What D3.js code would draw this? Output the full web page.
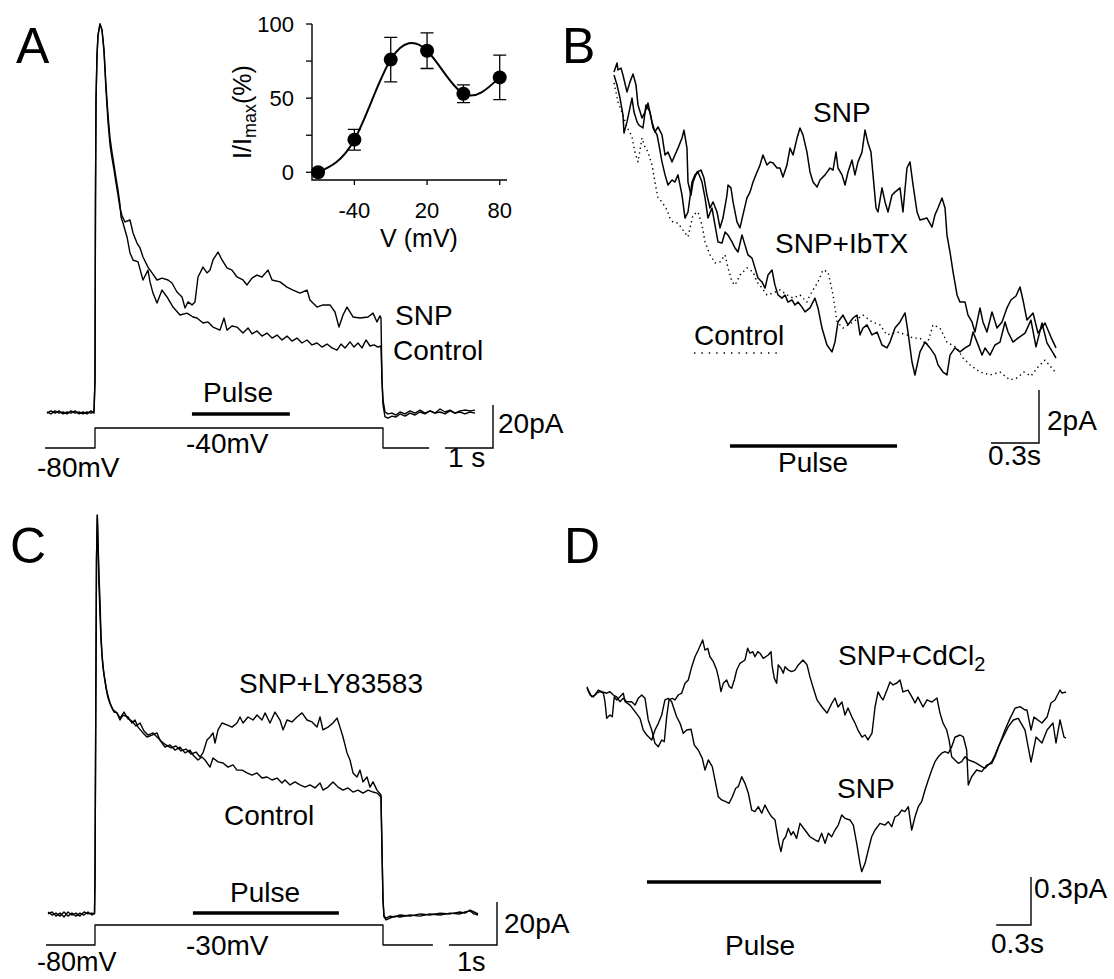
<!DOCTYPE html>
<html>
<head>
<meta charset="utf-8">
<script src="https://cdn.jsdelivr.net/npm/d3@7"></script>
<style>
  body { margin: 0; background: #fff; }
  text { font-family: "Liberation Sans", Arial, sans-serif; fill: #000; }
</style>
</head>
<body>
<svg width="1114" height="979"></svg>
<script>
// ---- Panel A : current (pA) vs time (s), step -80 -> -40 mV ----
const aCtl = [[-1.0,0],[-0.917,-0.9],[-0.833,0.5],[-0.75,-0.5],[-0.667,0],[-0.583,-0.9],[-0.5,0.5],[-0.417,-0.5],[-0.333,0],[-0.25,-0.9],[-0.167,0],[-0.083,-0.5],[-0.021,0],
  [0,14.9],[0.01,98.6],[0.021,145.1],[0.042,166.0],[0.063,175.3],[0.104,180.5],[0.146,177.7],[0.188,168.4],[0.229,152.1],[0.271,138.1],[0.313,127.4],[0.354,120.9],[0.396,114.9],[0.438,108.8],[0.479,103.3],[0.521,96.3],[0.542,90.7],[0.583,87.9],[0.667,81.4],[0.729,74.0],[0.792,70.7],[0.896,69.8],[1.0,61.4],[1.104,66.0],[1.146,60.5],[1.208,55.3],[1.292,50.7],[1.396,56.7],[1.5,53.5],[1.625,48.8],[1.771,45.1],[1.917,46.0],[2.042,44.2],[2.125,43.7],[2.25,41.4],[2.354,41.9],[2.458,39.5],[2.604,38.1],[2.688,43.7],[2.75,38.1],[2.854,40.0],[2.958,39.5],[3.083,36.7],[3.188,39.1],[3.271,36.3],[3.375,37.7],[3.479,35.3],[3.583,36.7],[3.688,34.4],[3.792,35.8],[3.896,33.5],[4.0,35.3],[4.104,33.0],[4.208,34.4],[4.313,32.1],[4.417,33.5],[4.521,31.2],[4.625,32.1],[4.729,30.2],[4.833,31.6],[4.938,29.8],[5.042,28.8],[5.125,31.6],[5.208,29.8],[5.313,32.6],[5.396,30.2],[5.479,32.1],[5.563,29.8],[5.646,33.5],[5.729,30.7],[5.813,31.2],[5.896,30.2],[5.958,30.7],
  [5.979,14.9],[6.0,3.3],[6.042,-2.3],[6.104,-2.8],[6.188,-1.9],[6.271,-2.3],[6.354,-0.9],[6.458,-1.9],[6.563,-0.5],[6.667,-1.4],[6.771,0],[6.875,-0.9],[6.979,0.5],[7.083,-0.5],[7.188,0],[7.292,-0.9],[7.396,0.5],[7.5,-0.5],[7.604,0],[7.708,-0.9],[7.813,0],[7.917,-0.5]];
const aSnp = [[-1.0,-0.5],[-0.917,0.5],[-0.833,-0.5],[-0.75,0.5],[-0.667,-0.9],[-0.583,0],[-0.5,-0.5],[-0.417,0.5],[-0.333,-0.9],[-0.25,0],[-0.167,-0.9],[-0.083,0.5],[-0.021,-0.5],
  [0,14.9],[0.01,98.6],[0.021,145.1],[0.042,166.0],[0.063,175.3],[0.104,180.5],[0.146,177.7],[0.188,167.4],[0.229,149.8],[0.271,134.9],[0.313,124.2],[0.354,118.1],[0.396,112.6],[0.438,106.5],[0.479,100.9],[0.521,94.9],[0.563,91.2],[0.625,88.4],[0.729,89.3],[0.792,83.3],[0.875,78.6],[0.938,76.3],[1.0,72.1],[1.104,67.4],[1.188,64.7],[1.292,61.4],[1.396,62.3],[1.521,61.4],[1.604,60.0],[1.708,55.8],[1.813,53.5],[1.875,48.4],[1.938,51.2],[2.021,49.8],[2.083,51.2],[2.146,62.8],[2.25,67.4],[2.333,64.7],[2.396,66.0],[2.458,70.7],[2.563,74.4],[2.646,70.7],[2.75,67.0],[2.854,66.0],[2.958,62.8],[3.083,61.4],[3.167,59.1],[3.271,62.3],[3.375,63.7],[3.479,62.8],[3.604,66.0],[3.688,61.4],[3.854,60.5],[4.0,58.1],[4.125,56.7],[4.271,55.3],[4.417,56.7],[4.479,52.1],[4.625,48.8],[4.75,49.8],[4.896,49.8],[5.0,46.5],[5.083,39.5],[5.167,45.1],[5.25,48.8],[5.375,44.2],[5.521,43.7],[5.688,44.2],[5.792,46.0],[5.875,41.9],[5.938,44.7],[5.958,43.7],
  [5.979,14.9],[6.0,5.6],[6.042,0],[6.104,-0.9],[6.188,-0.5],[6.271,-1.4],[6.354,0],[6.458,-0.9],[6.563,0.5],[6.667,-0.5],[6.771,0.9],[6.875,-0.5],[6.979,0.5],[7.083,-0.5],[7.188,1.4],[7.292,0],[7.396,0.9],[7.5,-0.5],[7.604,0.5],[7.708,0.9],[7.813,0.5],[7.917,0.9]];
const aCmd = [[-1.04,-80],[0,-80],[0,-40],[6,-40],[6,-80],[6.96,-80]];
const aPulse = [2.02, 4.06];

// ---- inset : normalised current vs voltage ----
const ivV = [-70, -40, -10, 20, 50, 80];
const ivI = [0, 22, 76, 82, 53, 64];
const ivErr = [0, 7, 15, 12, 6, 15];
const ivYTicks = [0, 25, 50, 75, 100];
const ivYLabels = [0, 50, 100];
const ivXTicks = [-40, 20, 80];

// ---- Panel B : pA vs s ----
const bSnp = [[0,11.62],[0.019,11.96],[0.025,11.70],[0.044,11.77],[0.056,11.51],[0.081,10.87],[0.1,11.25],[0.119,11.55],[0.1375,11.13],[0.15,10.38],[0.175,9.89],[0.194,10.11],[0.2125,10.45],[0.2375,9.74],[0.256,9.36],[0.275,9.55],[0.3,9.25],[0.319,8.49],[0.3375,8.60],[0.3625,8.23],[0.381,8.49],[0.4,8.75],[0.425,9.13],[0.4375,9.43],[0.456,8.75],[0.4625,7.47],[0.481,6.98],[0.494,7.47],[0.519,7.85],[0.544,7.92],[0.5625,7.62],[0.581,6.98],[0.6,6.49],[0.619,6.72],[0.644,6.34],[0.6625,5.74],[0.681,6.11],[0.706,6.98],[0.7125,7.36],[0.731,7.25],[0.744,6.72],[0.769,5.96],[0.7875,5.74],[0.806,6.23],[0.831,6.87],[0.85,7.09],[0.869,7.47],[0.894,7.85],[0.9125,8.11],[0.931,8.49],[0.956,8.11],[0.975,8.23],[0.994,8.19],[1.019,8.00],[1.0375,8.00],[1.056,7.66],[1.081,8.11],[1.1,8.75],[1.119,8.49],[1.144,9.13],[1.1625,9.51],[1.181,9.25],[1.206,8.60],[1.225,7.85],[1.244,7.47],[1.269,7.28],[1.2875,7.55],[1.319,7.74],[1.35,8.00],[1.369,7.92],[1.3875,8.60],[1.4,8.00],[1.425,7.74],[1.444,7.36],[1.4625,7.85],[1.4875,8.30],[1.506,7.74],[1.525,8.23],[1.55,8.60],[1.569,9.43],[1.5875,8.94],[1.606,8.60],[1.619,7.74],[1.6375,6.49],[1.65,6.34],[1.675,7.25],[1.694,6.72],[1.7125,6.34],[1.7375,6.98],[1.756,7.09],[1.7875,7.25],[1.806,6.34],[1.831,8.00],[1.85,8.23],[1.869,7.36],[1.894,6.34],[1.9125,6.04],[1.956,6.11],[1.9875,5.77],[2.006,6.23],[2.025,6.49],[2.05,6.87],[2.069,6.49],[2.081,5.47],[2.1,4.83],[2.119,4.08],[2.144,3.21],[2.1625,2.94],[2.194,2.94],[2.2125,2.45],[2.2375,2.19],[2.256,1.81],[2.2875,2.72],[2.306,2.19],[2.331,1.81],[2.3625,2.57],[2.394,1.96],[2.425,2.19],[2.456,2.72],[2.481,3.02],[2.5125,3.17],[2.5375,3.51],[2.556,3.02],[2.581,2.26],[2.619,2.53],[2.65,1.77],[2.694,2.15],[2.731,1.62],[2.7625,1.21]];
const bIbtx = [[0,11.51],[0.019,11.13],[0.0375,10.64],[0.056,10.00],[0.0625,9.32],[0.081,9.74],[0.094,10.11],[0.1125,10.64],[0.125,10.11],[0.144,9.74],[0.156,9.62],[0.181,9.51],[0.2,10.38],[0.225,10.11],[0.244,9.51],[0.269,9.25],[0.281,8.87],[0.3,8.23],[0.319,7.74],[0.3375,7.36],[0.3625,7.55],[0.381,7.47],[0.4,7.74],[0.425,6.98],[0.444,6.11],[0.4625,6.34],[0.4875,7.47],[0.506,7.74],[0.525,7.85],[0.55,7.47],[0.569,6.87],[0.5875,6.11],[0.6125,6.49],[0.631,5.85],[0.65,5.21],[0.675,5.17],[0.694,5.58],[0.7125,5.47],[0.7375,5.21],[0.756,4.98],[0.775,4.83],[0.8,5.47],[0.819,5.09],[0.8375,4.72],[0.8625,4.60],[0.881,4.23],[0.9,3.85],[0.925,3.70],[0.944,3.47],[0.9625,3.96],[0.9875,4.15],[1.006,3.58],[1.025,3.21],[1.05,3.09],[1.069,3.21],[1.0875,2.94],[1.1125,3.02],[1.131,2.83],[1.15,2.94],[1.175,2.75],[1.194,2.57],[1.225,2.72],[1.256,3.09],[1.275,2.72],[1.3,1.96],[1.331,1.32],[1.3625,1.06],[1.381,1.43],[1.4,2.19],[1.431,2.45],[1.4625,2.08],[1.494,2.34],[1.519,2.45],[1.5375,1.70],[1.556,1.96],[1.581,2.08],[1.6125,1.70],[1.644,1.81],[1.675,1.32],[1.706,1.21],[1.725,1.43],[1.756,1.96],[1.7875,2.19],[1.819,2.53],[1.8375,1.81],[1.8625,0.68],[1.881,0.19],[1.9125,1.06],[1.944,1.43],[1.975,1.21],[2.006,0.94],[2.025,0.57],[2.056,0.30],[2.081,0.19],[2.1,0.94],[2.131,1.21],[2.1625,1.06],[2.194,1.21],[2.225,1.32],[2.244,1.81],[2.269,1.43],[2.3,0.94],[2.319,1.21],[2.35,0.94],[2.381,1.32],[2.4125,1.43],[2.444,2.19],[2.4625,1.81],[2.494,1.43],[2.525,1.58],[2.569,1.77],[2.606,2.26],[2.6375,1.25],[2.675,2.15],[2.706,1.40],[2.744,1.02],[2.7625,0.83]];
const bCtl = [[0,11.21],[0.025,10.49],[0.056,10.00],[0.081,9.55],[0.1125,9.17],[0.131,8.60],[0.15,8.23],[0.175,9.13],[0.194,8.79],[0.2125,8.60],[0.2375,8.11],[0.256,7.47],[0.275,6.87],[0.3,6.72],[0.331,6.42],[0.35,6.11],[0.369,5.96],[0.4,5.92],[0.431,5.66],[0.4625,5.40],[0.494,6.23],[0.525,6.34],[0.55,5.85],[0.569,5.21],[0.6,4.72],[0.631,4.42],[0.6625,4.45],[0.694,4.72],[0.7125,4.23],[0.7375,3.70],[0.756,3.58],[0.7875,3.96],[0.831,4.23],[0.869,4.08],[0.894,3.70],[0.925,3.47],[0.956,3.21],[0.994,3.28],[1.0375,3.40],[1.081,3.21],[1.119,3.09],[1.1625,3.21],[1.206,2.94],[1.225,3.21],[1.275,3.70],[1.306,4.15],[1.3375,4.08],[1.369,3.21],[1.394,2.19],[1.431,1.96],[1.494,2.19],[1.556,2.45],[1.6125,2.19],[1.6625,2.08],[1.706,1.70],[1.769,1.81],[1.831,1.70],[1.869,1.58],[1.9125,1.58],[1.956,1.32],[1.994,2.08],[2.0375,1.96],[2.081,1.43],[2.144,1.21],[2.181,0.83],[2.225,0.57],[2.2875,0.30],[2.35,0.19],[2.4125,0.30],[2.475,0],[2.519,0.08],[2.5625,0.30],[2.606,0.15],[2.65,0.49],[2.694,0.75],[2.731,0.49],[2.7625,0.26]];
const bPulse = [0.725, 1.769];

// ---- Panel C : pA vs s, step -80 -> -30 mV ----
const cCtl = [[-0.979,-0.9],[-0.896,0],[-0.813,-1.9],[-0.729,-0.5],[-0.646,-2.3],[-0.563,0],[-0.479,-1.4],[-0.396,-0.5],[-0.313,-1.9],[-0.229,0],[-0.146,-0.9],[-0.063,-0.5],[-0.01,-0.9],
  [0,14.9],[0.017,98.6],[0.031,163.7],[0.048,184.6],[0.063,173.0],[0.083,156.7],[0.104,145.1],[0.125,128.8],[0.146,119.5],[0.167,113.5],[0.208,107.9],[0.25,102.3],[0.313,97.2],[0.375,94.0],[0.458,92.6],[0.521,89.3],[0.583,91.6],[0.688,90.7],[0.771,87.9],[0.833,89.3],[0.896,86.0],[1.0,83.3],[1.083,81.4],[1.188,82.3],[1.292,83.3],[1.354,80.0],[1.458,76.7],[1.563,77.7],[1.667,75.3],[1.771,76.7],[1.875,74.0],[1.979,75.3],[2.042,73.0],[2.146,70.7],[2.229,72.1],[2.292,70.7],[2.396,67.4],[2.458,71.6],[2.563,69.8],[2.667,69.3],[2.771,67.4],[2.875,68.4],[2.958,66.0],[3.063,66.0],[3.167,64.7],[3.271,63.7],[3.375,64.7],[3.479,62.3],[3.583,62.8],[3.688,61.4],[3.792,62.3],[3.896,60.0],[3.958,61.4],[4.063,59.1],[4.167,60.5],[4.271,59.1],[4.375,58.1],[4.479,59.1],[4.583,57.7],[4.688,60.0],[4.75,56.7],[4.854,58.1],[4.958,60.5],[5.063,58.1],[5.167,56.7],[5.271,57.7],[5.375,55.8],[5.479,56.7],[5.583,55.3],[5.688,56.7],[5.792,55.8],[5.875,55.3],[5.958,53.5],
  [5.979,28.8],[6.0,5.6],[6.021,-2.3],[6.063,-3.7],[6.146,-2.8],[6.25,-1.9],[6.354,-2.3],[6.563,-1.4],[6.771,-1.9],[6.979,-0.9],[7.188,-1.4],[7.396,-0.5],[7.604,-0.9],[7.708,0],[7.813,0.5],[7.896,-0.9],[7.979,-1.4]];
const cLy = [[-0.979,0],[-0.896,-1.4],[-0.813,-0.5],[-0.729,-1.9],[-0.646,0],[-0.563,-1.9],[-0.479,-0.5],[-0.396,-1.9],[-0.313,-0.5],[-0.229,-1.4],[-0.146,0],[-0.063,-1.4],[-0.01,-0.5],
  [0,14.9],[0.017,98.6],[0.031,163.7],[0.048,184.6],[0.063,170.7],[0.083,152.1],[0.104,138.1],[0.125,126.5],[0.146,119.5],[0.167,114.9],[0.188,110.2],[0.229,104.2],[0.271,99.5],[0.333,95.8],[0.396,93.0],[0.458,92.6],[0.521,90.2],[0.604,93.0],[0.688,89.8],[0.771,88.8],[0.854,86.5],[0.938,87.9],[1.021,84.2],[1.104,82.3],[1.208,83.3],[1.313,80.9],[1.396,79.1],[1.479,77.7],[1.583,76.3],[1.688,77.2],[1.792,74.9],[1.896,75.8],[2.0,73.5],[2.104,74.4],[2.188,72.1],[2.25,74.0],[2.333,80.0],[2.396,81.4],[2.458,83.3],[2.5,78.6],[2.563,84.7],[2.646,87.9],[2.75,87.0],[2.854,86.0],[2.958,87.9],[3.021,90.7],[3.083,87.9],[3.188,90.7],[3.292,89.3],[3.375,91.6],[3.479,89.3],[3.542,92.6],[3.646,87.9],[3.75,93.0],[3.854,89.3],[3.917,84.7],[4.0,89.3],[4.104,88.4],[4.208,90.7],[4.313,92.6],[4.417,89.3],[4.521,88.4],[4.625,86.0],[4.688,90.7],[4.75,84.7],[4.854,86.0],[4.958,87.9],[5.042,90.2],[5.104,86.0],[5.167,81.4],[5.25,74.0],[5.313,70.7],[5.375,64.7],[5.458,62.8],[5.521,66.0],[5.583,60.5],[5.667,62.8],[5.729,58.1],[5.792,60.5],[5.875,56.7],[5.958,54.4],
  [5.979,28.8],[6.0,5.6],[6.021,-1.9],[6.063,-2.8],[6.146,-1.9],[6.25,-2.3],[6.354,-1.4],[6.563,-1.9],[6.771,-0.9],[6.979,-1.4],[7.188,-0.5],[7.396,-0.9],[7.604,0],[7.708,-0.5],[7.813,0.9],[7.896,0],[7.979,-0.9]];
const cCmd = [[-1.02,-80],[0,-80],[0,-30],[6,-30],[6,-80],[7.04,-80]];
const cPulse = [2.04, 5.08];

// ---- Panel D : pA vs s ----
const dCd = [[0,0.002],[0.011,-0.019],[0.041,-0.061],[0.069,-0.05],[0.097,-0.019],[0.127,-0.029],[0.170,-0.039],[0.198,-0.029],[0.227,-0.05],[0.256,-0.061],[0.284,-0.092],[0.313,-0.071],[0.342,-0.092],[0.385,-0.092],[0.414,-0.113],[0.442,-0.071],[0.472,-0.05],[0.5,-0.071],[0.528,-0.206],[0.558,-0.269],[0.586,-0.352],[0.615,-0.373],[0.644,-0.331],[0.666,-0.342],[0.687,-0.186],[0.707,-0.081],[0.735,-0.071],[0.759,-0.081],[0.787,-0.05],[0.816,-0.039],[0.845,0.023],[0.873,0.044],[0.903,0.127],[0.931,0.189],[0.959,0.231],[0.997,0.294],[1.017,0.231],[1.041,0.242],[1.060,0.189],[1.089,0.158],[1.118,0.106],[1.138,0.044],[1.155,-0.029],[1.175,0.023],[1.204,0.044],[1.227,0.002],[1.247,-0.008],[1.270,0.044],[1.291,0.106],[1.319,0.148],[1.362,0.169],[1.385,0.242],[1.405,0.211],[1.428,0.221],[1.448,0.189],[1.472,0.221],[1.491,0.211],[1.520,0.179],[1.563,0.2],[1.586,0.221],[1.597,0.127],[1.615,0.054],[1.635,0.023],[1.649,0.138],[1.672,0.117],[1.692,0.086],[1.707,0.127],[1.735,0.106],[1.765,0.096],[1.793,0.106],[1.822,0.138],[1.862,0.169],[1.897,0.138],[1.922,0.063],[1.948,0],[1.983,-0.081],[2.026,-0.125],[2.069,-0.163],[2.112,-0.1],[2.138,-0.069],[2.164,-0.125],[2.198,-0.094],[2.224,-0.175],[2.250,-0.131],[2.284,-0.188],[2.310,-0.225],[2.336,-0.269],[2.371,-0.313],[2.397,-0.3],[2.422,-0.331],[2.457,-0.288],[2.483,-0.125],[2.509,-0.031],[2.534,-0.063],[2.552,-0.081],[2.586,-0.019],[2.612,0.031],[2.638,0.013],[2.672,0.025],[2.698,0.044],[2.724,-0.031],[2.767,-0.019],[2.802,-0.063],[2.828,-0.1],[2.853,-0.063],[2.897,-0.125],[2.931,-0.081],[2.974,-0.094],[3.017,-0.069],[3.043,-0.163],[3.069,-0.225],[3.101,-0.269],[3.121,-0.331],[3.144,-0.436],[3.172,-0.456],[3.201,-0.477],[3.230,-0.467],[3.259,-0.436],[3.287,-0.456],[3.330,-0.467],[3.359,-0.477],[3.403,-0.498],[3.431,-0.508],[3.459,-0.488],[3.489,-0.467],[3.517,-0.425],[3.546,-0.373],[3.589,-0.311],[3.632,-0.248],[3.675,-0.206],[3.718,-0.196],[3.776,-0.269],[3.828,-0.469],[3.871,-0.313],[3.922,-0.35],[3.966,-0.269],[4.017,-0.225],[4.043,-0.35],[4.078,-0.206],[4.112,-0.313],[4.129,-0.319]];
const dSnp = [[0,-0.008],[0.026,-0.05],[0.054,-0.061],[0.084,-0.039],[0.112,-0.029],[0.141,-0.039],[0.155,-0.092],[0.170,-0.196],[0.198,-0.175],[0.218,-0.186],[0.235,-0.061],[0.256,-0.081],[0.284,-0.061],[0.313,-0.039],[0.328,-0.092],[0.371,-0.113],[0.414,-0.154],[0.457,-0.196],[0.485,-0.269],[0.515,-0.3],[0.558,-0.331],[0.586,-0.269],[0.615,-0.227],[0.644,-0.175],[0.672,-0.081],[0.701,-0.071],[0.730,-0.092],[0.744,-0.123],[0.773,-0.186],[0.802,-0.227],[0.830,-0.289],[0.859,-0.269],[0.897,-0.264],[0.925,-0.363],[0.959,-0.394],[0.994,-0.446],[1.017,-0.519],[1.046,-0.456],[1.080,-0.498],[1.103,-0.581],[1.132,-0.686],[1.161,-0.706],[1.196,-0.717],[1.224,-0.727],[1.253,-0.686],[1.282,-0.633],[1.304,-0.623],[1.334,-0.561],[1.362,-0.602],[1.391,-0.664],[1.420,-0.769],[1.448,-0.779],[1.477,-0.748],[1.506,-0.789],[1.534,-0.738],[1.563,-0.779],[1.592,-0.811],[1.621,-0.831],[1.635,-0.894],[1.655,-0.977],[1.672,-1.029],[1.692,-0.956],[1.713,-0.936],[1.735,-0.883],[1.759,-0.925],[1.778,-0.904],[1.807,-0.946],[1.836,-0.852],[1.879,-0.894],[1.922,-0.936],[1.966,-0.956],[1.994,-0.967],[2.023,-0.914],[2.052,-0.977],[2.080,-0.914],[2.109,-0.936],[2.138,-0.894],[2.166,-0.863],[2.196,-0.8],[2.224,-0.821],[2.267,-0.831],[2.296,-0.863],[2.325,-0.977],[2.353,-1.102],[2.368,-1.154],[2.397,-1.102],[2.425,-1.019],[2.454,-0.936],[2.483,-0.894],[2.526,-0.852],[2.569,-0.863],[2.597,-0.842],[2.627,-0.873],[2.655,-0.811],[2.684,-0.8],[2.713,-0.769],[2.741,-0.779],[2.770,-0.748],[2.799,-0.894],[2.828,-0.811],[2.856,-0.748],[2.885,-0.717],[2.914,-0.644],[2.942,-0.581],[2.972,-0.519],[3.0,-0.467],[3.028,-0.436],[3.058,-0.414],[3.086,-0.404],[3.115,-0.414],[3.144,-0.373],[3.172,-0.314],[3.216,-0.3],[3.244,-0.311],[3.273,-0.394],[3.287,-0.613],[3.316,-0.561],[3.359,-0.519],[3.403,-0.529],[3.446,-0.488],[3.489,-0.477],[3.517,-0.436],[3.560,-0.352],[3.603,-0.269],[3.647,-0.196],[3.690,-0.133],[3.733,-0.123],[3.776,-0.144],[3.793,-0.144],[3.828,-0.269],[3.853,-0.188],[3.922,-0.225],[3.966,-0.188],[4.0,-0.1],[4.034,-0.081],[4.078,-0.019],[4.095,-0.038],[4.129,-0.031]];
const dPulse = [0.517, 2.534];

const svg = d3.select("svg");

// scales (time in s, current in pA, command in mV)
const xA = d3.scaleLinear().domain([0, 1]).range([95, 143]);
const yA = d3.scaleLinear().domain([0, 20]).range([412, 369]);
const vA = d3.scaleLinear().domain([-80, -40]).range([448, 428]);
const xC = d3.scaleLinear().domain([0, 1]).range([95, 143]);
const yC = d3.scaleLinear().domain([0, 20]).range([912, 869]);
const vC = d3.scaleLinear().domain([-80, -30]).range([945, 925]);
const xB = d3.scaleLinear().domain([0, 1]).range([614, 774]);
const yB = d3.scaleLinear().domain([0, 1]).range([380, 353.5]);
const xD = d3.scaleLinear().domain([0, 1]).range([587, 703]);
const yD = d3.scaleLinear().domain([0, 1]).range([687, 527]);
const xI = d3.scaleLinear().domain([-75, 86]).range([312, 507]);
const yI = d3.scaleLinear().domain([0, 100]).range([172.3, 24]);

function trace(data, x, y, w, dash) {
  svg.append("path").datum(data)
    .attr("d", d3.line().x(d => x(d[0])).y(d => y(d[1])))
    .attr("fill", "none").attr("stroke", "#000")
    .attr("stroke-width", w).attr("stroke-linejoin", "round")
    .attr("stroke-dasharray", dash || null);
}
function label(txt, x, y, size, anchor) {
  return svg.append("text").attr("x", x).attr("y", y)
    .attr("font-size", size || 28).attr("text-anchor", anchor || "start").text(txt);
}
function pulse(p, x, y) {
  svg.append("line").attr("x1", x(p[0])).attr("x2", x(p[1]))
    .attr("y1", y).attr("y2", y).attr("stroke", "#000").attr("stroke-width", 3.5);
}
function scaleBar(cx, cy, w, h) {
  svg.append("path").attr("d", `M${cx - w},${cy}H${cx}V${cy - h}`)
    .attr("fill", "none").attr("stroke", "#000").attr("stroke-width", 1.4);
}

// ---- A ----
trace(aCtl, xA, yA, 1.4);
trace(aSnp, xA, yA, 1.4);
trace(aCmd, xA, vA, 1.3);
pulse(aPulse, xA, 414);
scaleBar(493, 448, xA(1) - xA(0), yA(0) - yA(20));
label("A", 16, 63, 50);
label("SNP", 395, 325);
label("Control", 393, 360);
label("Pulse", 203, 402);
label("-40mV", 186, 453);
label("-80mV", 37, 477);
label("20pA", 498, 433);
label("1 s", 448, 467);

// inset
const gI = svg.append("g");
gI.append("path").attr("d", `M312,24V180H507`).attr("fill", "none").attr("stroke", "#000").attr("stroke-width", 1.4);
ivYTicks.forEach(v => gI.append("line").attr("x1", 306).attr("x2", 312).attr("y1", yI(v)).attr("y2", yI(v)).attr("stroke", "#000").attr("stroke-width", 1.3));
ivXTicks.forEach(v => gI.append("line").attr("x1", xI(v)).attr("x2", xI(v)).attr("y1", 180).attr("y2", 185).attr("stroke", "#000").attr("stroke-width", 1.3));
ivYLabels.forEach(v => gI.append("text").attr("x", 294).attr("y", yI(v) + 8).attr("font-size", 22).attr("text-anchor", "end").text(v));
ivXTicks.forEach(v => gI.append("text").attr("x", xI(v)).attr("y", 218).attr("font-size", 22).attr("text-anchor", "middle").text(v));
gI.append("text").attr("x", 419).attr("y", 247).attr("font-size", 25).attr("text-anchor", "middle").text("V (mV)");
const yl = gI.append("text").attr("transform", "translate(251,112) rotate(-90)").attr("font-size", 25).attr("text-anchor", "middle");
yl.append("tspan").text("I/I");
yl.append("tspan").attr("font-size", 18).attr("dy", 5).text("max");
yl.append("tspan").attr("dy", -5).text("(%)");
const ivPts = ivV.map((v, i) => [v, ivI[i], ivErr[i]]);
gI.append("path").datum(ivPts)
  .attr("d", d3.line().x(d => xI(d[0])).y(d => yI(d[1])).curve(d3.curveNatural))
  .attr("fill", "none").attr("stroke", "#000").attr("stroke-width", 2);
ivPts.filter(d => d[2] > 0).forEach(d => {
  const x = xI(d[0]), t = yI(d[1] + d[2]), b = yI(d[1] - d[2]);
  gI.append("path").attr("d", `M${x - 6.5},${t}H${x + 6.5}M${x},${t}V${b}M${x - 6.5},${b}H${x + 6.5}`)
    .attr("fill", "none").attr("stroke", "#000").attr("stroke-width", 1.3);
});
gI.selectAll("circle").data(ivPts).join("circle")
  .attr("cx", d => xI(d[0])).attr("cy", d => yI(d[1])).attr("r", 7).attr("fill", "#000");

// ---- B ----
trace(bCtl, xB, yB, 1.4, "1.4 3.4");
trace(bIbtx, xB, yB, 1.5);
trace(bSnp, xB, yB, 1.5);
pulse(bPulse, xB, 446);
scaleBar(1039, 443, xB(0.3) - xB(0), yB(0) - yB(2));
label("B", 562, 63, 50);
label("SNP", 813, 122);
label("SNP+IbTX", 775, 253);
label("Control", 694, 345);
svg.append("line").attr("x1", 694).attr("x2", 778).attr("y1", 353).attr("y2", 353)
  .attr("stroke", "#000").attr("stroke-width", 1.4).attr("stroke-dasharray", "1.4 6");
label("Pulse", 778, 472);
label("2pA", 1047, 430);
label("0.3s", 988, 465);

// ---- C ----
trace(cCtl, xC, yC, 1.4);
trace(cLy, xC, yC, 1.4);
trace(cCmd, xC, vC, 1.3);
pulse(cPulse, xC, 913);
scaleBar(497, 945, xC(1) - xC(0), yC(0) - yC(20));
label("C", 10, 563, 50);
label("SNP+LY83583", 239, 693);
label("Control", 224, 825);
label("Pulse", 230, 902);
label("-30mV", 186, 955);
label("-80mV", 37, 971, 27);
label("20pA", 504, 933);
label("1s", 457, 971, 27);

// ---- D ----
trace(dCd, xD, yD, 1.4);
trace(dSnp, xD, yD, 1.4);
pulse(dPulse, xD, 882);
scaleBar(1031, 925, xD(0.3) - xD(0), yD(0) - yD(0.3));
label("D", 564, 563, 50);
const cd = label("SNP+CdCl", 838, 665);
cd.append("tspan").attr("font-size", 20).attr("dy", 6).text("2");
label("SNP", 837, 798);
label("Pulse", 725, 955);
label("0.3pA", 1034, 898);
label("0.3s", 991, 953);
</script>
</body>
</html>
